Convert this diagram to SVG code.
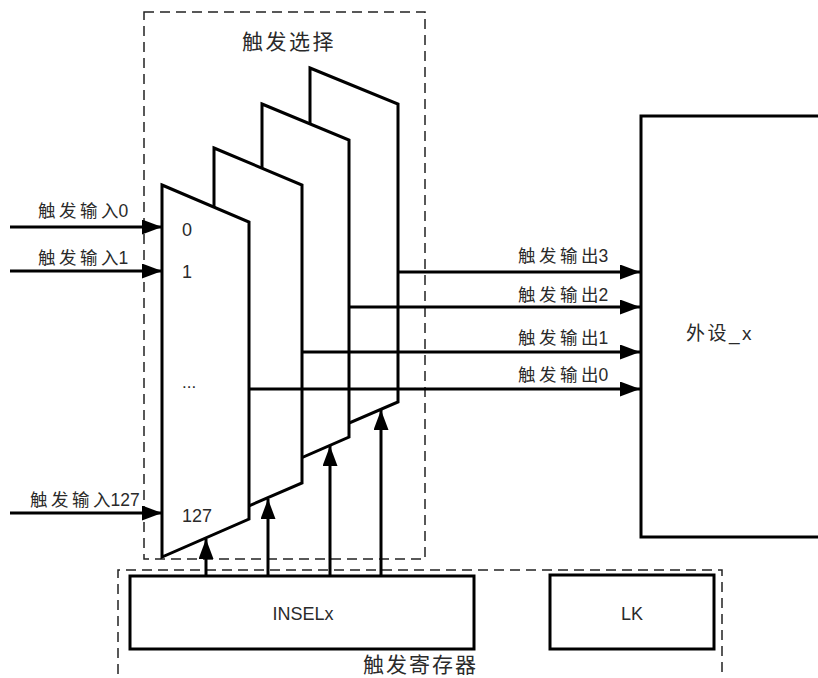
<svg xmlns="http://www.w3.org/2000/svg" width="818" height="678" viewBox="0 0 818 678">
<style>
.t{font-family:"Liberation Sans","Noto Sans CJK SC",sans-serif;fill:#2a2a2a;}
.lbl{font-size:17.5px;}
.cj{letter-spacing:3.5px;}
.shape{fill:#fff;stroke:#000;stroke-width:3;stroke-linejoin:miter;}
.dash{fill:none;stroke:#222;stroke-width:1.5;stroke-dasharray:10 6;}
.wire{fill:none;stroke:#000;stroke-width:3;marker-end:url(#ah);}
</style>
<defs>
<marker id="ah" markerUnits="userSpaceOnUse" markerWidth="20" markerHeight="15" refX="20" refY="7.5" orient="auto">
<path d="M0,0 L20,7.5 L0,15 z" fill="#000"/>
</marker>
</defs>
<rect width="818" height="678" fill="#fff"/>

<g id="trigger-select">
<rect class="dash" x="144" y="12" width="281" height="547"/>
<text class="t" x="242" y="49" font-size="21" letter-spacing="2.5">触发选择</text>
</g>

<g id="mux3">
<polygon class="shape" points="310,68 398,104 398,402 310,440"/>
</g>
<g id="mux2">
<polygon class="shape" points="262,104 349,140 349,437 262,475"/>
</g>
<g id="mux1">
<polygon class="shape" points="214,148 302,185 302,483 214,521"/>
</g>
<g id="mux0">
<polygon class="shape" points="162,185 249,222 249,519 162,557"/>
<text class="t" x="182" y="236" font-size="18">0</text>
<text class="t" x="182" y="278" font-size="18">1</text>
<text class="t" x="182" y="388" font-size="17">...</text>
<text class="t" x="182" y="522" font-size="18">127</text>
</g>

<g id="peripheral">
<rect class="shape" x="641" y="116" width="200" height="421"/>
<text class="t" x="686" y="340" font-size="19" letter-spacing="2.5">外设_x</text>
</g>

<g id="trigger-registers">
<path class="dash" d="M118,690 V570 H722 V690"/>
<text class="t" x="363" y="672" font-size="21" letter-spacing="2">触发寄存器</text>
</g>
<g id="inselx">
<rect class="shape" x="130" y="576" width="344" height="73"/>
<text class="t" x="303" y="620" font-size="18" text-anchor="middle">INSELx</text>
</g>
<g id="lk">
<rect class="shape" x="550" y="575" width="164" height="74"/>
<text class="t" x="632" y="620" font-size="18" text-anchor="middle">LK</text>
</g>

<g id="connectors">
<line class="wire" x1="10" y1="227" x2="162" y2="227"/>
<line class="wire" x1="10" y1="271" x2="162" y2="271"/>
<line class="wire" x1="10" y1="513" x2="162" y2="513"/>
<line class="wire" x1="398" y1="272" x2="640" y2="272"/>
<line class="wire" x1="349" y1="307" x2="640" y2="307"/>
<line class="wire" x1="302" y1="352" x2="640" y2="352"/>
<line class="wire" x1="249" y1="389" x2="640" y2="389"/>
<line class="wire" x1="206" y1="576" x2="206" y2="539"/>
<line class="wire" x1="268" y1="576" x2="268" y2="499"/>
<line class="wire" x1="330" y1="576" x2="330" y2="446"/>
<line class="wire" x1="381" y1="576" x2="381" y2="410"/>
<text class="t lbl" x="38" y="217"><tspan class="cj">触发输</tspan>入0</text>
<text class="t lbl" x="38" y="264"><tspan class="cj">触发输</tspan>入1</text>
<text class="t lbl" x="30" y="506"><tspan class="cj">触发输</tspan>入127</text>
<text class="t lbl" x="518" y="262"><tspan class="cj">触发输</tspan>出3</text>
<text class="t lbl" x="518" y="301"><tspan class="cj">触发输</tspan>出2</text>
<text class="t lbl" x="518" y="344"><tspan class="cj">触发输</tspan>出1</text>
<text class="t lbl" x="518" y="381"><tspan class="cj">触发输</tspan>出0</text>
</g>
</svg>
